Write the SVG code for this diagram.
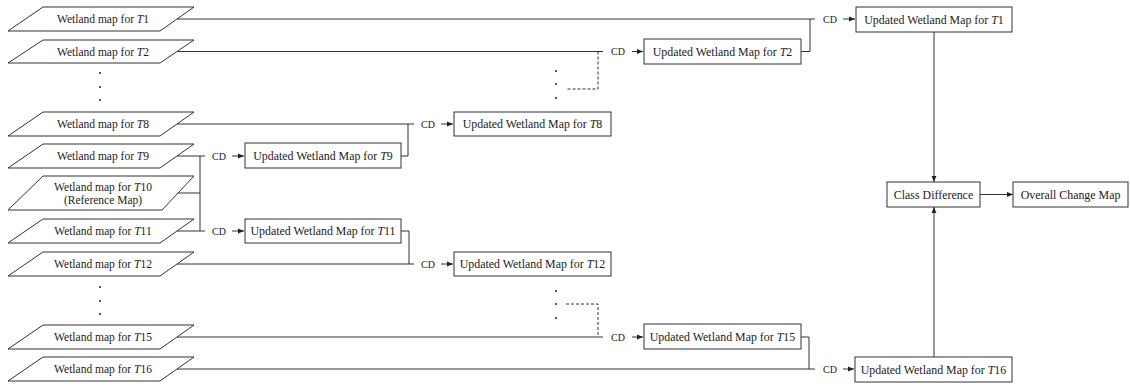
<svg xmlns="http://www.w3.org/2000/svg" width="1130" height="386" viewBox="0 0 1130 386">
<style>
.para{fill:#fff;stroke:#333;stroke-width:1}
.box{fill:#fff;stroke:#333;stroke-width:1}
.t{font-family:"Liberation Serif","Times New Roman",serif;font-size:11.5px;fill:#222;text-anchor:middle;dominant-baseline:central}
.tb{font-size:11.9px}
.cd{font-family:"Liberation Serif","Times New Roman",serif;font-size:10px;fill:#222;dominant-baseline:central}
.ln{fill:none;stroke:#333;stroke-width:1}
.ar{fill:none;stroke:#333;stroke-width:1;marker-end:url(#ah)}
.dash{fill:none;stroke:#333;stroke-width:1;stroke-dasharray:3,2}
.dot{fill:#333}
</style>
<defs>
<marker id="ah" viewBox="0 0 10 10" refX="10" refY="5" markerWidth="6" markerHeight="6" markerUnits="userSpaceOnUse" orient="auto">
<path d="M0,1 L10,5 L0,9 z" fill="#222"/>
</marker>
</defs>

<g id="connectors">
<path class="ln" d="M177,19 H815"/>
<path class="ln" d="M801,51.5 H810 V19"/>
<path class="ln" d="M177,51.5 H603"/>
<path class="dash" d="M598,51.5 V89 H566"/>
<path class="ln" d="M177,124 H414"/>
<path class="ln" d="M401,156 H408 V124"/>
<path class="ln" d="M177,156 H205"/>
<path class="ln" d="M178,193 H200"/>
<path class="ln" d="M177,231 H205"/>
<path class="ln" d="M200,156 V231"/>
<path class="ln" d="M401,231 H409 V264"/>
<path class="ln" d="M177,264 H414"/>
<path class="ln" d="M177,337 H603"/>
<path class="dash" d="M566,304 H598 V337"/>
<path class="ln" d="M801,337 H809 V369"/>
<path class="ln" d="M177,369 H815"/>
<path class="ar" d="M843,19 H855"/>
<path class="ar" d="M632,51.5 H643"/>
<path class="ar" d="M441,124 H453"/>
<path class="ar" d="M232,156 H244"/>
<path class="ar" d="M232,231 H244"/>
<path class="ar" d="M441,264 H453"/>
<path class="ar" d="M632,337 H643"/>
<path class="ar" d="M843,369 H854"/>
<path class="ar" d="M934,32 V182"/>
<path class="ar" d="M934,357 V207"/>
<path class="ar" d="M980,194.5 H1013"/>
<text class="cd" x="823" y="19">CD</text>
<text class="cd" x="611" y="51.5">CD</text>
<text class="cd" x="421" y="124">CD</text>
<text class="cd" x="212" y="156">CD</text>
<text class="cd" x="212" y="231">CD</text>
<text class="cd" x="421" y="264">CD</text>
<text class="cd" x="611" y="337">CD</text>
<text class="cd" x="823" y="369">CD</text>
</g>

<g id="dots">
<circle class="dot" cx="100" cy="73" r="1.1"/>
<circle class="dot" cx="100" cy="87" r="1.1"/>
<circle class="dot" cx="100" cy="100" r="1.1"/>
<circle class="dot" cx="100" cy="287" r="1.1"/>
<circle class="dot" cx="100" cy="301" r="1.1"/>
<circle class="dot" cx="100" cy="314" r="1.1"/>
<circle class="dot" cx="556" cy="71" r="1.1"/>
<circle class="dot" cx="556" cy="84" r="1.1"/>
<circle class="dot" cx="556" cy="98" r="1.1"/>
<circle class="dot" cx="556" cy="291" r="1.1"/>
<circle class="dot" cx="556" cy="304" r="1.1"/>
<circle class="dot" cx="556" cy="318" r="1.1"/>
</g>

<g id="w1"><polygon class="para" points="43,7 194,7 160,31 8,31"/><text class="t" x="103" y="19">Wetland map for <tspan font-style="italic">T</tspan>1</text></g>
<g id="w2"><polygon class="para" points="43,40 194,40 160,63 8,63"/><text class="t" x="103" y="51.5">Wetland map for <tspan font-style="italic">T</tspan>2</text></g>
<g id="w8"><polygon class="para" points="43,112 194,112 160,136 8,136"/><text class="t" x="103" y="124">Wetland map for <tspan font-style="italic">T</tspan>8</text></g>
<g id="w9"><polygon class="para" points="43,144 194,144 160,168 8,168"/><text class="t" x="103" y="156">Wetland map for <tspan font-style="italic">T</tspan>9</text></g>
<g id="w10"><polygon class="para" points="43,176 194,176 162,210 8,210"/><text class="t" x="103" y="187">Wetland map for <tspan font-style="italic">T</tspan>10</text><text class="t" x="103" y="200">(Reference Map)</text></g>
<g id="w11"><polygon class="para" points="43,219 194,219 160,243 8,243"/><text class="t" x="103" y="231">Wetland map for <tspan font-style="italic">T</tspan>11</text></g>
<g id="w12"><polygon class="para" points="43,252 194,252 160,276 8,276"/><text class="t" x="103" y="264">Wetland map for <tspan font-style="italic">T</tspan>12</text></g>
<g id="w15"><polygon class="para" points="43,325 194,325 160,349 8,349"/><text class="t" x="103" y="337">Wetland map for <tspan font-style="italic">T</tspan>15</text></g>
<g id="w16"><polygon class="para" points="43,357 194,357 160,381 8,381"/><text class="t" x="103" y="369">Wetland map for <tspan font-style="italic">T</tspan>16</text></g>

<g id="u1"><rect class="box" x="856" y="7" width="156" height="25"/><text class="t tb" x="934" y="19.5">Updated Wetland Map for <tspan font-style="italic">T</tspan>1</text></g>
<g id="u2"><rect class="box" x="644" y="39" width="157" height="25"/><text class="t tb" x="722.5" y="51.5">Updated Wetland Map for <tspan font-style="italic">T</tspan>2</text></g>
<g id="u8"><rect class="box" x="454" y="112" width="157" height="24"/><text class="t tb" x="532.5" y="124">Updated Wetland Map for <tspan font-style="italic">T</tspan>8</text></g>
<g id="u9"><rect class="box" x="245" y="143" width="156" height="25"/><text class="t tb" x="323" y="155.5">Updated Wetland Map for <tspan font-style="italic">T</tspan>9</text></g>
<g id="u11"><rect class="box" x="245" y="219" width="156" height="24"/><text class="t tb" x="323" y="231">Updated Wetland Map for <tspan font-style="italic">T</tspan>11</text></g>
<g id="u12"><rect class="box" x="454" y="252" width="157" height="24"/><text class="t tb" x="532.5" y="264">Updated Wetland Map for <tspan font-style="italic">T</tspan>12</text></g>
<g id="u15"><rect class="box" x="644" y="324" width="157" height="25"/><text class="t tb" x="722.5" y="336.5">Updated Wetland Map for <tspan font-style="italic">T</tspan>15</text></g>
<g id="u16"><rect class="box" x="855" y="357" width="157" height="25"/><text class="t tb" x="933.5" y="369.5">Updated Wetland Map for <tspan font-style="italic">T</tspan>16</text></g>

<g id="classdiff"><rect class="box" x="887" y="182" width="93" height="25"/><text class="t tb" x="933.5" y="194.5">Class Difference</text></g>
<g id="overall"><rect class="box" x="1013" y="182" width="115" height="25"/><text class="t tb" x="1070.5" y="194.5">Overall Change Map</text></g>
</svg>
